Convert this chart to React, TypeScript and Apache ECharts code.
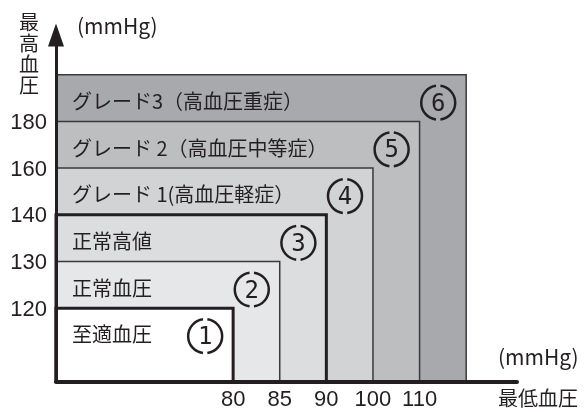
import React, { useEffect, useRef } from 'react';
import * as echarts from 'echarts';

// ---- data ----
const classNames = [
  '至適血圧',
  '正常血圧',
  '正常高値',
  'グレード 1(高血圧軽症）',
  'グレード 2（高血圧中等症）',
  'グレード3（高血圧重症）',
];
const classMarks = ['1', '2', '3', '4', '5', '6'];
const diastolicTicks = ['80', '85', '90', '100', '110'];
const systolicTicks = ['120', '130', '140', '160', '180'];
const xAxisTitle = '最低血圧';
const yAxisTitle = '最高血圧';
const unitText = '(mmHg)';

// ---- layout / style ----
const X_FIRST = 3.8;
const Y_FIRST = 1.57;
const xEdge = (i: number) => X_FIRST + i;
const yEdge = (i: number) => Y_FIRST + i;
const fills = ['#ffffff', '#e6e7e8', '#dcddde', '#d1d3d4', '#bcbec0', '#a7a9ac'];
const thick = [true, false, true, false, false, false];
const INK = '#231f20';
const FONT = '"Noto Sans CJK JP", "Noto Sans", sans-serif';
const NUMFONT = '"Liberation Sans", Arial, sans-serif';

function lookup(v: number, ticks: string[], edge: (i: number) => number) {
  for (let i = 0; i < ticks.length; i++) {
    if (Math.abs(edge(i) - v) < 1e-6) return ticks[i];
  }
  return '';
}

export default function App() {
  const ref = useRef<HTMLDivElement>(null);
  useEffect(() => {
    if (!ref.current) return;
    const chart = echarts.init(ref.current, null, { renderer: 'svg' });
    const order = classNames.map((_, i) => i).reverse();
    const titleChars = yAxisTitle.split('').map((ch, k) => ({
      type: 'text',
      x: 29,
      y: 21 + k * 21,
      style: {
        text: ch,
        fill: INK,
        fontSize: 20,
        lineHeight: 20,
        fontFamily: FONT,
        align: 'center',
        verticalAlign: 'middle',
      },
    }));
    chart.setOption({
      animation: false,
      grid: { left: 56, top: 35, width: 461, height: 346.5 },
      xAxis: {
        type: 'value',
        min: 0,
        max: 9.89,
        z: 5,
        axisLine: { show: true, onZero: false, lineStyle: { color: INK, width: 4 } },
        axisTick: { show: false },
        splitLine: { show: false },
        axisLabel: {
          customValues: diastolicTicks.map((_, i) => xEdge(i)),
          formatter: (v: number) => lookup(v, diastolicTicks, xEdge),
          color: INK,
          fontSize: 22,
          lineHeight: 22,
          fontFamily: NUMFONT,
          margin: 6,
        },
      },
      yAxis: {
        type: 'value',
        min: 0,
        max: 7.42,
        z: 5,
        axisLine: {
          show: true,
          onZero: false,
          symbol: ['none', 'triangle'],
          symbolSize: [16, 23],
          lineStyle: { color: INK, width: 3 },
        },
        axisTick: { show: false },
        splitLine: { show: false },
        axisLabel: {
          customValues: systolicTicks.map((_, i) => yEdge(i)),
          formatter: (v: number) => lookup(v, systolicTicks, yEdge),
          color: INK,
          fontSize: 22,
          lineHeight: 22,
          fontFamily: NUMFONT,
          margin: 9,
          padding: [6, 0, 0, 0],
        },
      },
      graphic: [
        ...titleChars,
        {
          type: 'text',
          x: 77,
          y: 25,
          style: { text: unitText, fill: INK, fontSize: 21, lineHeight: 21, fontFamily: FONT, align: 'left', verticalAlign: 'middle' },
        },
        {
          type: 'text',
          x: 498,
          y: 356,
          style: { text: unitText, fill: INK, fontSize: 21, lineHeight: 21, fontFamily: FONT, align: 'left', verticalAlign: 'middle' },
        },
        {
          type: 'text',
          x: 498,
          y: 397,
          style: { text: xAxisTitle, fill: INK, fontSize: 20, lineHeight: 20, fontFamily: FONT, align: 'left', verticalAlign: 'middle' },
        },
      ],
      series: [
        {
          type: 'custom',
          z: 2,
          data: order.map((i) => [i]),
          renderItem: (params: any, api: any) => {
            const i = api.value(0) as number;
            const o = api.coord([0, 0]);
            const c = api.coord([xEdge(i), yEdge(i)]);
            const lab = api.coord([0, yEdge(i) - 0.55]);
            const cc = api.coord([xEdge(i) - 0.6, yEdge(i) - 0.6]);
            const r = 17;
            const g = 0.13;
            return {
              type: 'group',
              children: [
                {
                  type: 'rect',
                  shape: { x: o[0], y: c[1], width: c[0] - o[0], height: o[1] - c[1] },
                  style: {
                    fill: fills[i],
                    stroke: thick[i] ? INK : '#3a3a3a',
                    lineWidth: thick[i] ? 3 : 1.5,
                  },
                },
                {
                  type: 'text',
                  x: o[0] + 16,
                  y: lab[1],
                  style: {
                    text: classNames[i],
                    fill: INK,
                    fontSize: 20,
                    fontFamily: FONT,
                    align: 'left',
                    verticalAlign: 'middle',
                  },
                },
                {
                  type: 'arc',
                  shape: { cx: cc[0], cy: cc[1], r, startAngle: -Math.PI / 2 + g, endAngle: Math.PI / 2 - g, clockwise: true },
                  style: { stroke: INK, lineWidth: 2.5, fill: 'none' },
                },
                {
                  type: 'arc',
                  shape: { cx: cc[0], cy: cc[1], r, startAngle: Math.PI / 2 + g, endAngle: (3 * Math.PI) / 2 - g, clockwise: true },
                  style: { stroke: INK, lineWidth: 2.5, fill: 'none' },
                },
                {
                  type: 'text',
                  x: cc[0],
                  y: cc[1],
                  style: {
                    text: classMarks[i],
                    fill: INK,
                    fontSize: 24,
                    fontFamily: '"DejaVu Sans Mono", monospace',
                    align: 'center',
                    verticalAlign: 'middle',
                  },
                },
              ],
            };
          },
        },
      ],
    });
    return () => chart.dispose();
  }, []);
  return <div ref={ref} style={{ position: 'fixed', left: 0, top: 0, width: 585, height: 412 }} />;
}
